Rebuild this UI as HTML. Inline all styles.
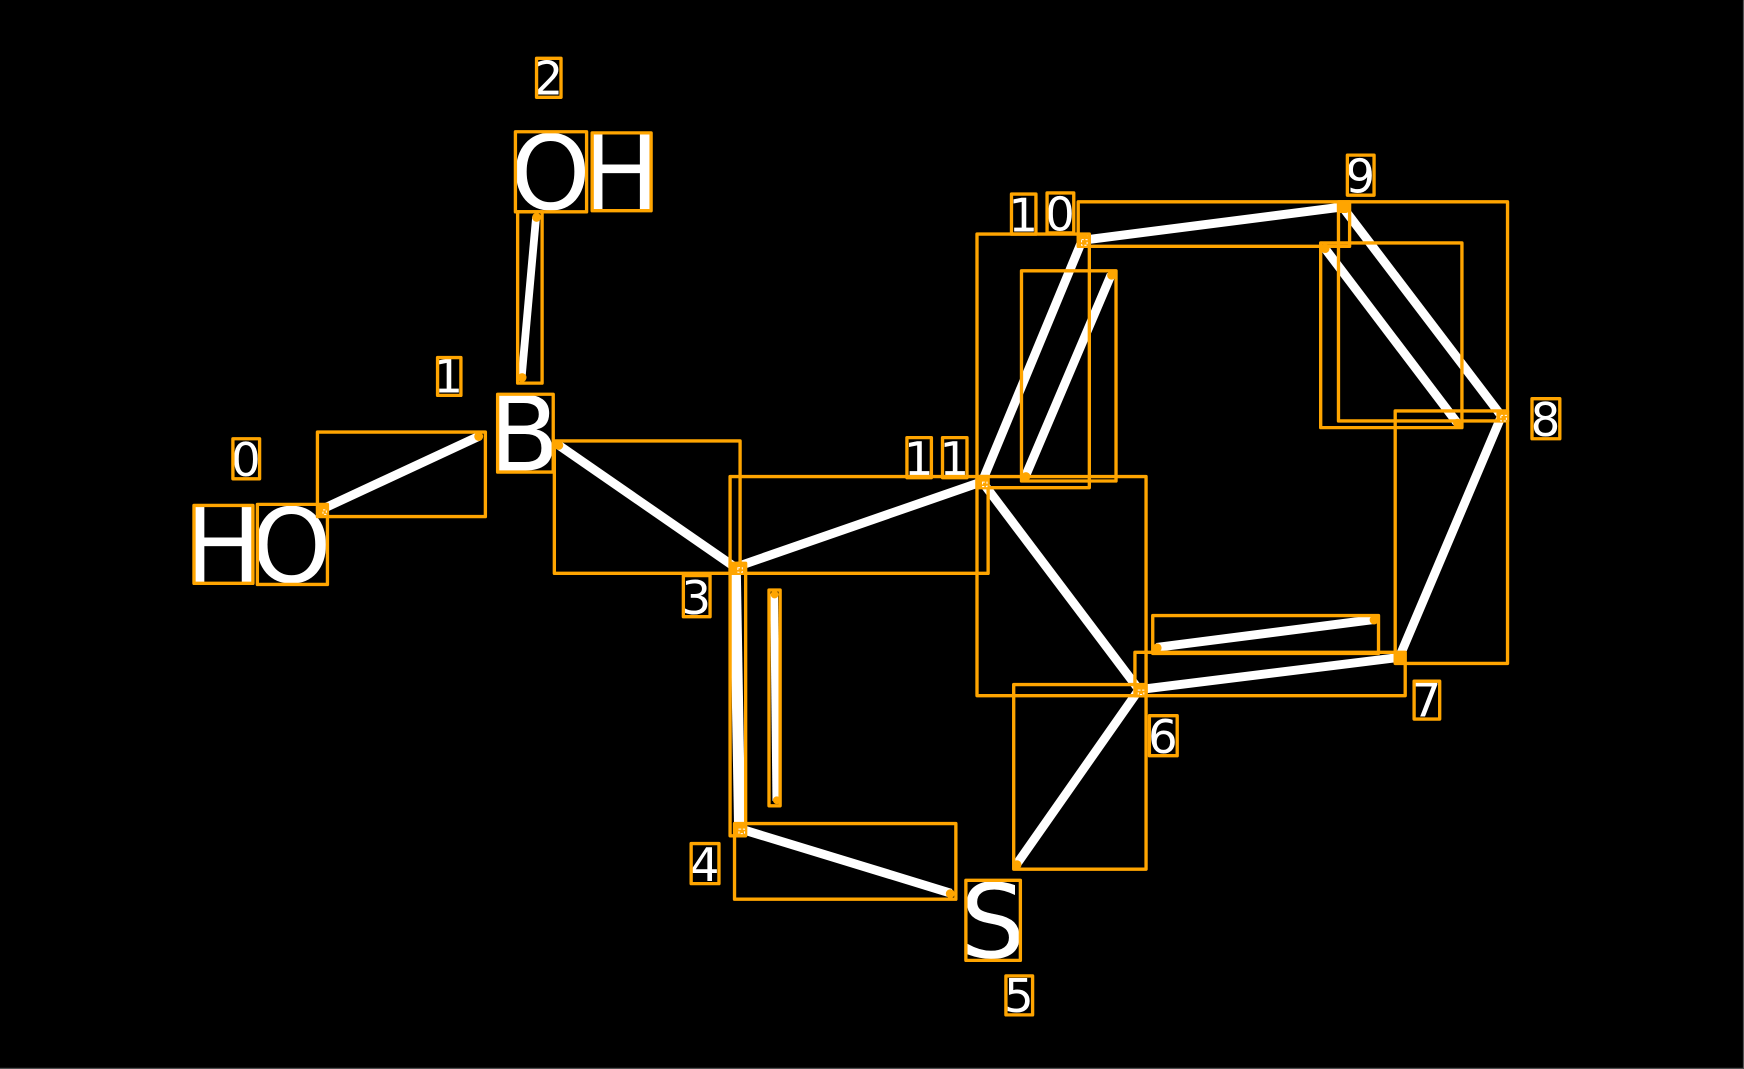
<!DOCTYPE html>
<html><head><meta charset="utf-8"><title>Molecule</title>
<style>html,body{margin:0;padding:0;background:#000;width:1744px;height:1069px;overflow:hidden}svg{display:block}</style>
</head><body>
<svg width="1744" height="1069" viewBox="0 0 1568 961" xmlns="http://www.w3.org/2000/svg">
<rect width="1568" height="961" fill="#000"/>
<rect x="1567" y="0" width="1" height="961" fill="#555"/>
<rect x="0" y="960" width="1568" height="1" fill="#555"/>
<g stroke="#fff" stroke-width="8" stroke-linecap="butt" fill="none">
<line x1="289" y1="458" x2="431" y2="392"/>
<line x1="482" y1="195" x2="469" y2="339" stroke-width="7"/>
<line x1="502" y1="400" x2="661" y2="510"/>
<line x1="661" y1="510" x2="883" y2="433"/>
<line x1="661" y1="510" x2="665" y2="745" stroke-width="10"/>
<line x1="696" y1="534" x2="698" y2="720" stroke-width="7"/>
<line x1="665" y1="745" x2="855" y2="803"/>
<line x1="883" y1="433" x2="973" y2="216"/>
<line x1="922" y1="428" x2="999" y2="247"/>
<line x1="973" y1="216" x2="1207" y2="186"/>
<line x1="1207" y1="186" x2="1350" y2="374"/>
<line x1="1191" y1="223" x2="1310" y2="380"/>
<line x1="1350" y1="374" x2="1258" y2="591"/>
<line x1="1258" y1="591" x2="1024" y2="620"/>
<line x1="1235" y1="557" x2="1040" y2="582"/>
<line x1="883" y1="433" x2="1024" y2="620"/>
<line x1="1024" y1="620" x2="914" y2="777"/>
</g>
<g font-family="'DejaVu Sans',sans-serif" fill="#fff" text-anchor="middle">
<g font-size="94">
<text x="200.5" y="523.5">H</text>
<text x="262" y="523" font-size="92">O</text>
<text x="495" y="188" font-size="92">O</text>
<text x="558.5" y="188.5">H</text>
<text x="471" y="423">B</text>
<text x="892.5" y="861" font-size="92">S</text>
</g>
<g font-size="42">
<text x="221" y="428">0</text>
<text x="403" y="353">1</text>
<text x="493" y="85">2</text>
<text x="626" y="552">3</text>
<text x="633.5" y="792">4</text>
<text x="916" y="910">5</text>
<text x="1045.5" y="677">6</text>
<text x="1282.5" y="644">7</text>
<text x="1389.5" y="392">8</text>
<text x="1223" y="173">9</text>
<text x="920" y="208">1</text>
<text x="953" y="207">0</text>
<text x="826" y="427">1</text>
<text x="858" y="427">1</text>
</g>
</g>
<g transform="translate(0.4 0.4)">
<g fill="none" stroke="#ffa500" stroke-width="3" stroke-linejoin="round">
<rect x="174" y="454" width="53" height="70"/>
<rect x="231" y="453" width="63" height="72"/>
<rect x="209" y="394" width="24" height="36"/>
<rect x="393" y="321" width="21" height="34"/>
<rect x="447" y="354" width="50" height="70"/>
<rect x="463" y="118" width="64" height="72"/>
<rect x="532" y="119" width="53" height="70"/>
<rect x="482" y="52" width="22" height="35"/>
<rect x="285" y="388" width="151" height="76"/>
<rect x="465" y="190" width="22" height="154"/>
<rect x="498" y="396" width="167" height="119"/>
<rect x="656" y="428" width="232" height="87"/>
<rect x="656" y="506" width="14" height="245"/>
<rect x="691" y="530" width="10" height="194"/>
<rect x="660" y="740" width="199" height="68"/>
<rect x="868" y="791" width="49" height="72"/>
<rect x="904" y="877" width="24" height="35"/>
<rect x="614" y="517" width="24" height="37"/>
<rect x="621" y="758" width="25" height="36"/>
<rect x="815" y="393" width="22" height="36"/>
<rect x="847" y="393" width="22" height="36"/>
<rect x="909" y="174" width="22" height="36"/>
<rect x="941" y="173" width="24" height="36"/>
<rect x="878" y="210" width="101" height="228"/>
<rect x="918" y="243" width="85" height="189"/>
<rect x="969" y="181" width="244" height="40"/>
<rect x="1211" y="139" width="24" height="36"/>
<rect x="1203" y="181" width="152" height="197"/>
<rect x="1187" y="218" width="127" height="166"/>
<rect x="1377" y="358" width="25" height="36"/>
<rect x="1254" y="369" width="101" height="227"/>
<rect x="1271" y="612" width="23" height="34"/>
<rect x="1020" y="586" width="243" height="39"/>
<rect x="1036" y="553" width="203" height="34"/>
<rect x="1033" y="643" width="25" height="36"/>
<rect x="878" y="428" width="152" height="197"/>
<rect x="911" y="615" width="119" height="166"/>
</g>
<g fill="#ffa500">
<rect x="285" y="453" width="9" height="10" rx="2"/>
<circle cx="430" cy="392" r="4"/>
<circle cx="482" cy="195" r="4"/>
<circle cx="469" cy="339" r="4"/>
<circle cx="502" cy="400" r="4"/>
<rect x="656" y="505" width="13" height="10" rx="2"/>
<rect x="878" y="428" width="10" height="10" rx="2"/>
<rect x="660" y="740" width="10" height="10" rx="2"/>
<circle cx="696" cy="534" r="3.5"/>
<circle cx="698" cy="719" r="3.5"/>
<circle cx="854" cy="803" r="4"/>
<circle cx="922" cy="428" r="4"/>
<circle cx="999" cy="247" r="4"/>
<rect x="968" y="211" width="10" height="10" rx="2"/>
<rect x="1202" y="181" width="10" height="10" rx="2"/>
<circle cx="1191" cy="223" r="4"/>
<circle cx="1310" cy="380" r="4"/>
<rect x="1345" y="369" width="10" height="10" rx="2"/>
<rect x="1253" y="586" width="10" height="10" rx="2"/>
<rect x="1019" y="615" width="10" height="10" rx="2"/>
<circle cx="1235" cy="557" r="4"/>
<circle cx="1040" cy="582" r="4"/>
<circle cx="914" cy="777" r="4"/>
</g>
<g fill="none" stroke="#fff" stroke-width="0.9" stroke-dasharray="2 1.5">
<rect x="290" y="458" width="3" height="4"/>
<rect x="663" y="510" width="4" height="4"/>
<rect x="883" y="433" width="4" height="4"/>
<rect x="664" y="745" width="5" height="4"/>
<rect x="972" y="215" width="5" height="5"/>
<rect x="1023" y="620" width="5" height="4"/>
<rect x="1349" y="373" width="5" height="5"/>
</g>
</g>
</svg>
</body></html>
